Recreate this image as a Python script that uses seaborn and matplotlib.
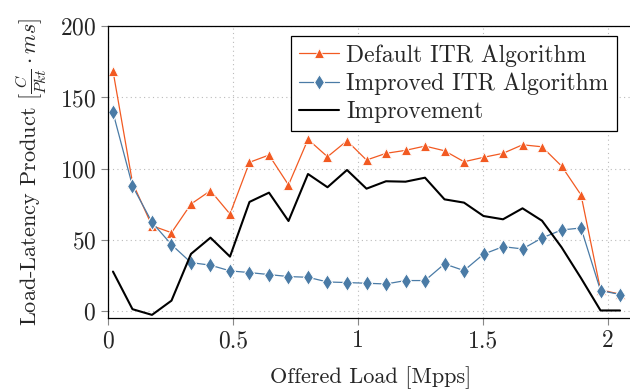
import numpy as np
import pandas as pd
import matplotlib
matplotlib.use("Agg")
import matplotlib.pyplot as plt
import seaborn as sns

# offered load [Mpps]
load = [0.02, 0.098, 0.176, 0.254, 0.332, 0.41, 0.488, 0.566, 0.644, 0.722,
        0.8, 0.878, 0.956, 1.034, 1.112, 1.19, 1.268, 1.346, 1.424, 1.502,
        1.58, 1.658, 1.736, 1.814, 1.892, 1.97, 2.048]

default_itr = [168.7, 90.2, 60.0, 55.1, 75.2, 84.6, 68.2, 104.5, 109.6, 88.6,
               120.6, 108.4, 119.6, 106.1, 110.8, 112.9, 115.9, 112.6, 104.9, 108.0,
               110.8, 116.8, 115.4, 101.9, 81.6, 14.9, 12.0]

improved_itr = [139.5, 87.9, 62.4, 46.7, 34.1, 32.3, 28.3, 27.1, 25.7, 24.3,
                23.8, 20.5, 20.1, 19.6, 19.1, 21.5, 21.5, 33.2, 28.5, 40.0,
                45.3, 43.7, 51.4, 57.0, 58.4, 14.5, 11.7]

improvement = [27.8, 1.4, -2.6, 7.4, 40.2, 51.6, 38.3, 76.7, 83.2, 63.3,
               96.3, 87.0, 99.1, 86.0, 91.2, 90.9, 93.7, 78.5, 76.2, 66.8,
               64.5, 72.2, 63.5, 44.9, 23.2, 0.5, 0.5]

x_ticks = [0, 0.5, 1, 1.5, 2]
x_labels = ["0", "0.5", "1", "1.5", "2"]
y_ticks = [0, 50, 100, 150, 200]

sns.set_style("white")
plt.rcParams["font.family"] = ["cmr10", "DejaVu Serif"]
plt.rcParams["mathtext.fontset"] = "cm"
plt.rcParams["axes.formatter.use_mathtext"] = True
plt.rcParams["font.size"] = 17

df = pd.DataFrame({"load": load, "default": default_itr,
                   "improved": improved_itr, "improvement": improvement})

fig = plt.figure(figsize=(6.3, 3.92), dpi=100)
ax = fig.add_axes([0.1714, 0.188, 0.8334, 0.745])

sns.lineplot(data=df, x="load", y="default", ax=ax, color="#F25A22",
             marker="^", markersize=7.5, markeredgewidth=0.6, linewidth=0.9,
             label="Default ITR Algorithm")
sns.lineplot(data=df, x="load", y="improved", ax=ax, color="#4A7BA6",
             marker="d", markersize=8, markeredgewidth=0.8, linewidth=0.9,
             label="Improved ITR Algorithm")
sns.lineplot(data=df, x="load", y="improvement", ax=ax, color="black",
             linewidth=1.5, label="Improvement")

ax.set_xlim(0, 2.1)
ax.set_ylim(-5, 200)
ax.set_xticks(x_ticks)
ax.set_xticklabels(x_labels)
ax.set_yticks(y_ticks)
ax.grid(True, linestyle=(0, (1, 3)), color="#bbbbbb", linewidth=0.8)
ax.tick_params(direction="out", length=5, color="#888888", width=0.8,
               bottom=True, left=True, labelsize=17)
ax.spines["right"].set_visible(False)
for s in ["left", "bottom", "top"]:
    ax.spines[s].set_linewidth(0.9)
    ax.spines[s].set_color("black")

ax.set_xlabel("Offered Load [Mpps]", fontsize=16, labelpad=10)
ax.set_ylabel(r"Load-Latency Product [$\frac{C}{Pkt} \cdot ms$]", fontsize=16,
              labelpad=8)

leg = ax.legend(loc="upper right", bbox_to_anchor=(0.9695, 0.967),
                fancybox=False, framealpha=1, edgecolor="black",
                borderaxespad=0, borderpad=0.35, handlelength=1.7,
                handletextpad=0.3, labelspacing=0.25, fontsize=17)
leg.get_frame().set_linewidth(0.9)

fig.savefig("out.png", dpi=100)
